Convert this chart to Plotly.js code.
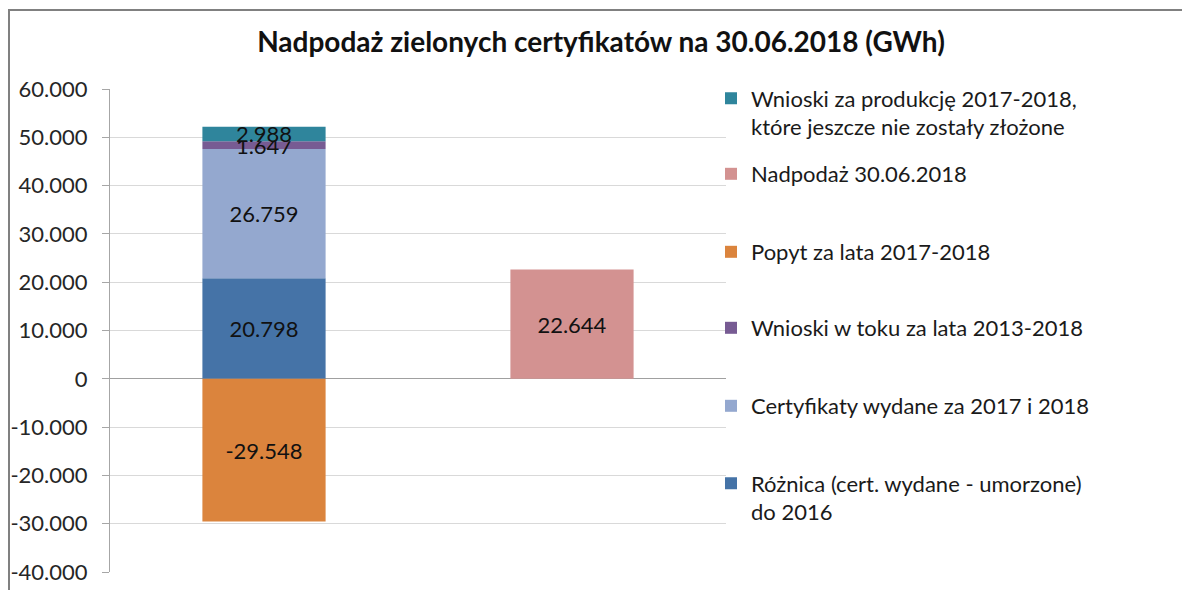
<!DOCTYPE html>
<html>
<head>
<meta charset="utf-8">
<script src="https://cdn.plot.ly/plotly-3.0.1.min.js"></script>
<style>
  html, body { margin: 0; padding: 0; background: #ffffff; }
  #chart { width: 1182px; height: 590px; }
</style>
</head>
<body>
<div id="chart"></div>
<script>
// ---- Data (GWh) ----
var CATEGORIES = ['Bilans', 'Nadpodaż'];
var SERIES_NAMES = [
  'Różnica (cert. wydane - umorzone)<br>do 2016',
  'Certyfikaty wydane za 2017 i 2018',
  'Wnioski w toku za lata 2013-2018',
  'Popyt za lata 2017-2018',
  'Nadpodaż 30.06.2018',
  'Wnioski za produkcję 2017-2018,<br>które jeszcze nie zostały złożone'
];
var SERIES_CATEGORY = ['Bilans', 'Bilans', 'Bilans', 'Bilans', 'Nadpodaż', 'Bilans'];
var SERIES_VALUES = [20798, 26759, 1647, -29548, 22644, 2988];
var SERIES_COLORS = ['#4573A7', '#94A8CF', '#775B93', '#DB843D', '#D39291', '#2F859C'];
var TICK_VALUES = [60000, 50000, 40000, 30000, 20000, 10000, 0, -10000, -20000, -30000, -40000];

// Legend entry vertical centres (px from top)
var LEGEND_CENTERS_PX = [498, 406, 328, 252, 174, 113];

var FONT = 'Lato, "Open Sans", sans-serif';
var FS = 22;

function fmt(v) {
  var s = Math.abs(Math.round(v)).toString();
  s = s.replace(/\B(?=(\d{3})+(?!\d))/g, '.');
  return (v < 0 ? '-' : '') + s;
}

var plotTop = 89, plotBottom = 572, plotLeft = 110, plotRight = 726;
var plotH = plotBottom - plotTop, plotW = plotRight - plotLeft;
function pyPaper(px) { return (plotBottom - px) / plotH; }
function pxPaper(px) { return (px - plotLeft) / plotW; }

var traces = [];
var layoutLegends = {};
for (var i = 0; i < SERIES_NAMES.length; i++) {
  var legName = i === 0 ? 'legend' : 'legend' + (i + 1);
  traces.push({
    type: 'bar',
    name: SERIES_NAMES[i],
    x: [SERIES_CATEGORY[i]],
    y: [SERIES_VALUES[i]],
    text: [fmt(SERIES_VALUES[i])],
    textposition: 'inside',
    insidetextanchor: 'middle',
    textangle: 0,
    constraintext: 'none',
    textfont: { family: FONT, size: FS, color: '#111111' },
    marker: { color: SERIES_COLORS[i], line: { width: 0 } },
    legend: legName,
    hoverinfo: 'name+y'
  });
  layoutLegends[legName] = {
    x: pxPaper(711),
    xanchor: 'left',
    y: pyPaper(LEGEND_CENTERS_PX[i]),
    yanchor: 'middle',
    valign: 'top',
    bgcolor: 'rgba(0,0,0,0)',
    borderwidth: 0,
    font: { family: FONT, size: FS, color: '#1a1a1a' }
  };
}

var layout = {
  width: 1182,
  height: 590,
  margin: { l: plotLeft, r: 1182 - plotRight, t: plotTop, b: 590 - plotBottom, pad: 0 },
  paper_bgcolor: '#ffffff',
  plot_bgcolor: '#ffffff',
  barmode: 'relative',
  bargap: 0.6,
  showlegend: true,
  title: {
    text: 'Nadpodaż zielonych certyfikatów na 30.06.2018 (GWh)',
    font: { family: FONT, size: 28, color: '#111111', weight: 'bold' },
    x: 601 / 1182,
    xanchor: 'center',
    xref: 'container',
    y: 1 - 42 / 590,
    yanchor: 'middle',
    yref: 'container'
  },
  xaxis: {
    type: 'category',
    categoryorder: 'array',
    categoryarray: CATEGORIES,
    showticklabels: false,
    ticks: '',
    showgrid: false,
    showline: false,
    zeroline: false,
    fixedrange: true
  },
  yaxis: {
    range: [-40000, 60000],
    tickvals: TICK_VALUES,
    ticktext: TICK_VALUES.map(fmt),
    ticks: 'outside',
    ticklen: 7,
    tickcolor: '#a6a6a6',
    tickwidth: 1,
    ticklabelstandoff: 10,
    tickfont: { family: FONT, size: FS, color: '#262626' },
    showgrid: true,
    gridcolor: '#d9d9d9',
    gridwidth: 1,
    showline: true,
    linecolor: '#a6a6a6',
    linewidth: 1,
    zeroline: true,
    zerolinecolor: '#a0a0a0',
    zerolinewidth: 1,
    fixedrange: true
  },
  shapes: [{
    type: 'rect',
    xref: 'paper', yref: 'paper',
    x0: pxPaper(9), x1: pxPaper(1300),
    y0: pyPaper(700), y1: pyPaper(10),
    line: { color: '#808080', width: 2 },
    fillcolor: 'rgba(0,0,0,0)',
    layer: 'below'
  }]
};
for (var k in layoutLegends) layout[k] = layoutLegends[k];

Plotly.newPlot('chart', traces, layout, { displayModeBar: false, staticPlot: true });
</script>
</body>
</html>
